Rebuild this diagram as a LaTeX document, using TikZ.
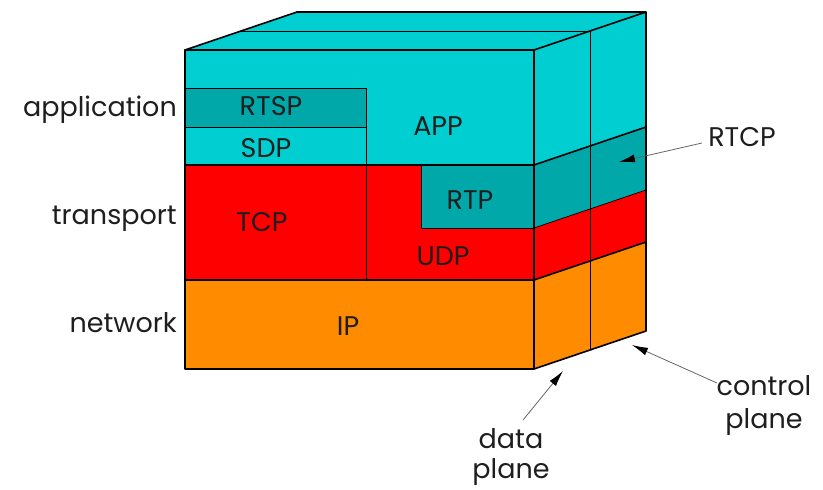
\documentclass[tikz,border=0pt]{standalone}
\usepackage{fontspec}
\setmainfont{Poppins}
\usepackage{xcolor}
\usepackage{tikz}
\usetikzlibrary{arrows.meta}

\definecolor{appcol}{RGB}{0,206,208}
\definecolor{darkcol}{RGB}{0,168,170}
\definecolor{tcpcol}{RGB}{255,0,0}
\definecolor{ipcol}{RGB}{255,140,0}
\definecolor{txtcol}{RGB}{30,30,30}

\tikzset{
  edge/.style={line width=1.6pt, line join=round},
  thin edge/.style={line width=0.7pt},
  lbl/.style={font=\fontsize{27}{33}\selectfont, text=txtcol, inner sep=0pt},
  pointer/.style={draw=black!60, line width=0.8pt, -{Latex[length=16pt,width=8pt,black]}}
}

\begin{document}
\begin{tikzpicture}[x=1pt, y=-1pt]
      \useasboundingbox (0,0) rectangle (823,490);
      % front face layers
      \fill[appcol] (185,50) rectangle (534,165);
      \fill[tcpcol] (185,165) rectangle (534,280);
      \fill[ipcol] (185,280) rectangle (534,369);
      \filldraw[darkcol, draw=black, thin edge] (185,88) rectangle (366,127);
      \draw[thin edge] (185,127) rectangle (366,165);
      \filldraw[darkcol, draw=black, thin edge] (421,165) rectangle (534,228);
      \draw[thin edge] (366,165) -- (366,280);
      % right face layers
      \fill[appcol] (534,50) -- (646,12) -- (646,127) -- (534,165) -- cycle;
      \fill[darkcol] (534,165) -- (646,127) -- (646,190) -- (534,228) -- cycle;
      \fill[tcpcol] (534,228) -- (646,190) -- (646,242) -- (534,280) -- cycle;
      \fill[ipcol] (534,280) -- (646,242) -- (646,331) -- (534,369) -- cycle;
      \draw[thin edge] (534,228) -- (646,190);
      % top face
      \fill[appcol] (185,50) -- (297,12) -- (646,12) -- (534,50) -- cycle;
      % control plane split
      \draw[thin edge] (241,31) -- (590,31) -- (590,350);
      % layer borders
      \draw[edge] (185,165) -- (534,165) -- (646,127);
      \draw[edge] (185,280) -- (534,280) -- (646,242);
      % outline
      \draw[edge] (185,50) rectangle (534,369);
      \draw[edge] (185,50) -- (297,12) -- (646,12) -- (534,50);
      \draw[edge] (646,12) -- (646,331) -- (534,369);
      % layer names
      \node[lbl, anchor=east] (application) at (177,110) {application};
      \node[lbl, anchor=east] (transport) at (177,219) {transport};
      \node[lbl, anchor=east] (network) at (177,323) {network};
      % protocols
      \node[lbl] (app) at (438,126) {APP};
      \node[lbl] (rtsp) at (271,106) {RTSP};
      \node[lbl] (sdp) at (266,148) {SDP};
      \node[lbl] (tcp) at (262,222) {TCP};
      \node[lbl] (rtp) at (470,200) {RTP};
      \node[lbl] (udp) at (443,256) {UDP};
      \node[lbl] (ip) at (348,326) {IP};
      \node[lbl] (rtcp) at (742,137) {RTCP};
      % planes
      \node[lbl, align=center] (control) at (764,406) {control\\plane};
      \node[lbl, align=center, font=\fontsize{27}{30}\selectfont] (data) at (511,457) {data\\plane};
      % pointers
      \coordinate (rtcp-tail) at (702,143);
      \coordinate (rtcp-tip) at (619,162);
      \coordinate (control-tail) at (717,383);
      \coordinate (control-tip) at (632,345);
      \coordinate (data-tail) at (523,420);
      \coordinate (data-tip) at (563,371);
      \draw[pointer] (rtcp-tail) -- (rtcp-tip);
      \draw[pointer] (control-tail) -- (control-tip);
      \draw[pointer] (data-tail) -- (data-tip);
    \end{tikzpicture}
\end{document}
